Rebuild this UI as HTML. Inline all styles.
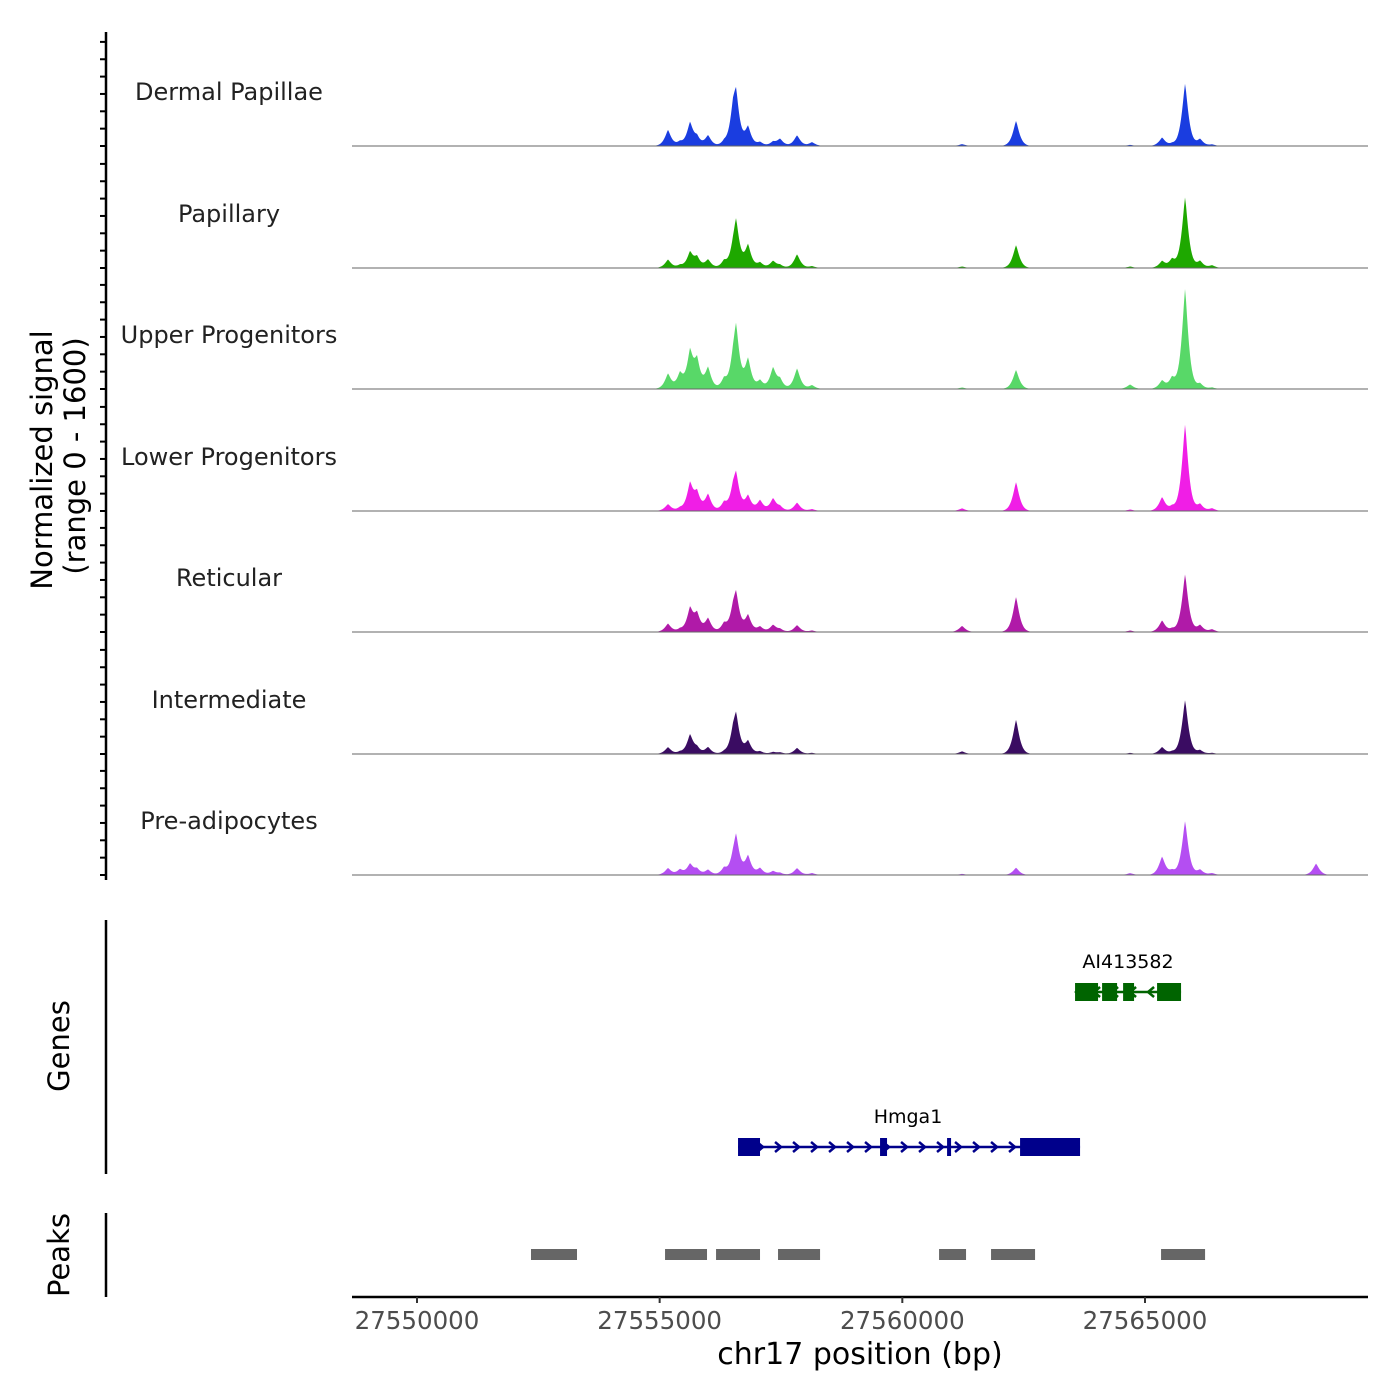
<!DOCTYPE html>
<html><head><meta charset="utf-8"><style>
html,body{margin:0;padding:0;background:#fff;}
svg{display:block;font-family:"DejaVu Sans","Liberation Sans",sans-serif;}
</style></head><body>
<svg id="chart" width="1400" height="1400" viewBox="0 0 1400 1400"></svg>
<script>
const trackNames = ["Dermal Papillae","Papillary","Upper Progenitors","Lower Progenitors","Reticular","Intermediate","Pre-adipocytes"];
const trackColors = ["#1a3de0","#1ea800","#58d868","#f01ee6","#b01aa8","#3a0c62","#b44ef2"];
const peakPos = [27555172,27555419,27555626,27555770,27555997,27556327,27556512,27556574,27556821,27557068,27557336,27557480,27557831,27558140,27561231,27562343,27564693,27565352,27565558,27565826,27566135,27566382,27568525];
const sigDermal = [210,50,300,100,140,50,300,600,250,50,50,90,140,50,25,330,15,110,25,820,90,20,0];
const sigPapillary = [110,35,200,130,110,90,80,600,300,70,90,35,180,25,20,300,20,90,110,930,90,35,0];
const sigUpper = [200,200,470,350,280,130,140,780,390,110,270,110,270,50,20,250,60,110,140,1320,70,20,0];
const sigLower = [90,35,350,220,220,110,150,440,200,140,160,50,110,25,35,380,20,180,50,1140,90,35,0];
const sigReticular = [110,35,300,220,180,110,150,460,220,70,90,35,90,20,80,460,20,150,35,760,90,35,0];
const sigIntermediate = [90,25,250,70,90,25,150,470,170,35,25,20,80,15,35,450,15,90,25,710,50,15,0];
const sigPreadip = [90,70,140,70,70,90,70,500,250,90,50,25,90,25,15,95,25,240,50,710,70,25,150];
const seriesList = [sigDermal,sigPapillary,sigUpper,sigLower,sigReticular,sigIntermediate,sigPreadip];
const xTicks = [27550000,27555000,27560000,27565000];
const peakStarts = [27552349,27555111,27556162,27557439,27560757,27561828,27565331];
const peakEnds = [27553297,27555976,27557068,27558305,27561313,27562735,27566238];
const hmgaExStart = [27556615,27559541,27560922,27562426];
const hmgaExEnd = [27557068,27559685,27560984,27563662];
const aiExStart = [27563559,27564116,27564549,27565249];
const aiExEnd = [27564033,27564425,27564775,27565743];

const NS="http://www.w3.org/2000/svg";
const svg=document.getElementById('chart');
function mk(tag,attrs,parent){const e=document.createElementNS(NS,tag);for(const k in attrs)e.setAttribute(k,attrs[k]);(parent||svg).appendChild(e);return e;}
const X0=352,X1=1368,BP0=27548661,BP1=27569595;
const xs=bp=>X0+(bp-BP0)/(BP1-BP0)*(X1-X0);
const baselines=[146,268,389,511,632,754,875];
const trackH=121.5, YMAX=1600;
const ys=(v,b)=>b-v/YMAX*trackH;

seriesList.forEach((vals,t)=>{
  const g=mk('g',{});
  
  
  const b=baselines[t];
  let d='M'+X0+','+b;
  for(let px=X0;px<=X1;px+=1){
    const bp=BP0+(px-X0)/(X1-X0)*(BP1-BP0);
    let v=0;
    for(let i=0;i<peakPos.length;i++){const z=Math.abs(bp-peakPos[i])/95;v+=vals[i]*Math.exp(-Math.pow(z,1.3));}
    d+=' L'+px+','+ys(v,b).toFixed(2);
  }
  d+=' L'+X1+','+b+' Z';
  const p=mk('path',{d:d,fill:trackColors[t],stroke:'none'},g);
  
  
  const l=mk('line',{x1:X0,x2:X1,y1:b,y2:b,stroke:'#666','stroke-width':1},g);
  
  
  const tx=mk('text',{x:229,y:b-46,'font-size':24,'text-anchor':'middle',fill:'#222'},g);
  tx.textContent=trackNames[t];
  
  
});
const ax=mk('line',{x1:106,x2:106,y1:32,y2:880,stroke:'#000','stroke-width':2.5});


for(let t=0;t<7;t++){for(let k=0;k<7;k++){const y=baselines[t]-k*17.35;
  const tk=mk('line',{x1:100,x2:106,y1:y,y2:y,stroke:'#000','stroke-width':2});
  
  }}
const yl=mk('text',{transform:'translate(52,460) rotate(-90)','font-size':29,'text-anchor':'middle',fill:'#000'});


yl.textContent='Normalized signal';
const yl2=mk('text',{transform:'translate(85,456) rotate(-90)','font-size':29,'text-anchor':'middle',fill:'#000'});


yl2.textContent='(range 0 - 1600)';

const ga=mk('line',{x1:106,x2:106,y1:920,y2:1174,stroke:'#000','stroke-width':2.5});


const gt=mk('text',{transform:'translate(69,1046) rotate(-90)','font-size':29,'text-anchor':'middle'});


gt.textContent='Genes';
function gene(name,exS,exE,y,col,dir,labelX){
  const g=mk('g',{});
  
  
  const a=xs(exS[0]),b=xs(exE[exE.length-1]);
  mk('line',{x1:a,x2:b,y1:y,y2:y,stroke:col,'stroke-width':2.5},g);
  for(let px=a+4;px<b-4;px+=18){
    mk('path',{d:dir>0?`M${px-3},${y-5} L${px+3},${y} L${px-3},${y+5}`:`M${px+3},${y-5} L${px-3},${y} L${px+3},${y+5}`,fill:'none',stroke:col,'stroke-width':2.5},g);
  }
  exS.forEach((s,i)=>{const r=mk('rect',{x:xs(s),y:y-9,width:Math.max(4,xs(exE[i])-xs(s)),height:18,fill:col},g);
    
    });
  const t=mk('text',{x:labelX,y:y-24,'font-size':19,'text-anchor':'middle',fill:'#000'},g);
  t.textContent=name;
}
gene('AI413582',aiExStart,aiExEnd,992,'#006400',-1,1128);
gene('Hmga1',hmgaExStart,hmgaExEnd,1147,'#00008b',1,908);

const pa=mk('line',{x1:106,x2:106,y1:1213,y2:1297,stroke:'#000','stroke-width':2.5});


const pt=mk('text',{transform:'translate(69,1255) rotate(-90)','font-size':29,'text-anchor':'middle'});


pt.textContent='Peaks';
peakStarts.forEach((s,i)=>{const r=mk('rect',{x:xs(s),y:1249,width:xs(peakEnds[i])-xs(s),height:11,fill:'#666'});
  
  });

const xa=mk('line',{x1:X0,x2:X1,y1:1297,y2:1297,stroke:'#000','stroke-width':2.5});


xTicks.forEach(v=>{const x=xs(v);
  const tk=mk('line',{x1:x,x2:x,y1:1297,y2:1303,stroke:'#333','stroke-width':2});
  
  
  const t=mk('text',{x:x,y:1329,'font-size':24.5,'text-anchor':'middle',fill:'#4d4d4d'});
  
  
  t.textContent=v;});
const xt=mk('text',{x:860,y:1364,'font-size':30,'text-anchor':'middle',fill:'#000'});


xt.textContent='chr17 position (bp)';
</script>
</body></html>
